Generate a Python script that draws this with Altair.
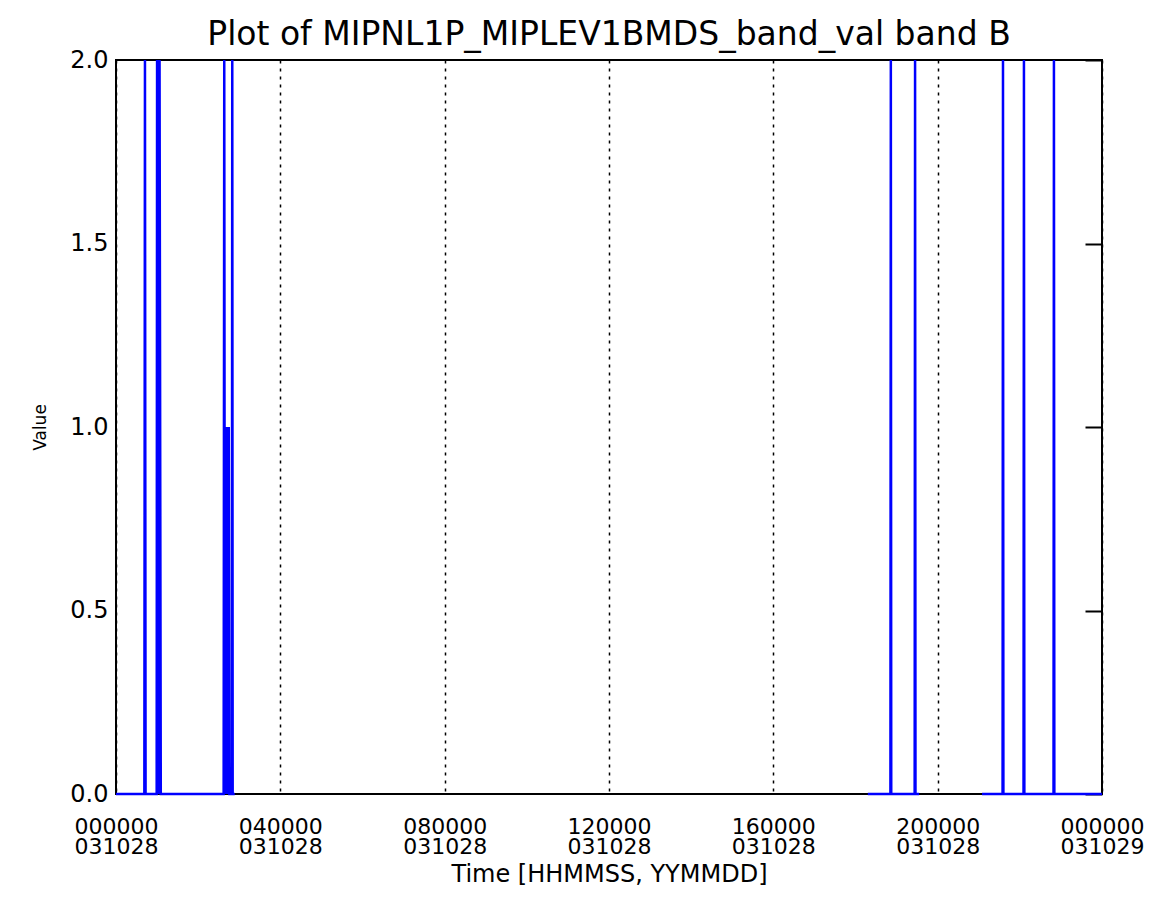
import altair as alt
import pandas as pd

# Time in hours from 000000 031028, value of band flag
seg1_t = [0.00, 0.69, 0.705, 0.72, 0.99, 1.00, 1.03, 1.06, 1.09, 1.10,
          2.62, 2.635, 2.65, 2.67, 2.69, 2.71, 2.73, 2.745, 2.76, 2.82, 2.83, 2.84, 2.89]
seg1_v = [0, 0, 2, 0, 0, 2, 0, 2, 0, 0,
          0, 2, 0, 1, 0, 1, 0, 1, 0, 0, 2, 0, 0]
seg2_t = [18.30, 18.85, 18.86, 18.87, 19.44, 19.45, 19.46, 19.55]
seg2_v = [0, 0, 2, 0, 0, 2, 0, 0]
seg3_t = [21.08, 21.58, 21.59, 21.60, 22.09, 22.10, 22.11, 22.82, 22.83, 22.84, 24.00]
seg3_v = [0, 0, 2, 0, 0, 2, 0, 0, 2, 0, 0]

x_ticks = [0, 4, 8, 12, 16, 20, 24]
y_ticks = [0.0, 0.5, 1.0, 1.5, 2.0]
title_text = "Plot of MIPNL1P_MIPLEV1BMDS_band_val band B"

rows = []
for name, ts, vs in [("a", seg1_t, seg1_v), ("b", seg2_t, seg2_v), ("c", seg3_t, seg3_v)]:
    for i, (t, v) in enumerate(zip(ts, vs)):
        rows.append({"seg": name, "order": i, "t": t, "v": v})
df = pd.DataFrame(rows)

FONT = "DejaVu Sans"

label_expr = ("[datum.value == 24 ? '000000' : (datum.value < 10 ? '0' : '') + datum.value + '0000', "
              "datum.value == 24 ? '031029' : '031028']")

xscale = alt.Scale(domain=[0, 24], nice=False, zero=False)
xaxis = alt.Axis(values=x_ticks, labelExpr=label_expr, title="Time [HHMMSS, YYMMDD]",
                 grid=True, gridDash=[3, 5], gridColor="black", gridWidth=1.5,
                 ticks=False, tickSize=0, domain=False, labelPadding=22,
                 labelFontSize=22, labelLineHeight=20, labelFont=FONT,
                 labelColor="black", labelBaseline="top", labelFlush=False,
                 labelOverlap=False,
                 titleFont=FONT, titleFontSize=24, titleFontWeight="normal",
                 titleColor="black", titlePadding=5)

yscale = alt.Scale(domain=[0, 2], nice=False)

base = alt.Chart(df).mark_line(color="#0000ff", strokeWidth=2.5, clip=False).encode(
    x=alt.X("t:Q", scale=xscale, axis=xaxis),
    y=alt.Y("v:Q", scale=yscale,
            axis=alt.Axis(values=y_ticks, format=".1f", title="Value", ticks=False,
                          domain=False, grid=False, labelPadding=8,
                          labelFontSize=24, labelFont=FONT, labelColor="black",
                          titleFont=FONT, titleFontSize=17, titleFontWeight="normal",
                          titleColor="black", titlePadding=20)),
    detail="seg:N",
    order="order:Q",
)

right = alt.Chart(df).mark_line(opacity=0).encode(
    x=alt.X("t:Q", scale=xscale, axis=xaxis),
    y=alt.Y("v:Q", scale=yscale,
            axis=alt.Axis(orient="right", values=y_ticks, labels=False, title=None,
                          domain=False, grid=False, ticks=True, tickSize=17, offset=-17,
                          tickColor="black", tickWidth=2)),
    detail="seg:N",
)

chart = alt.layer(base, right).resolve_axis(y="independent").properties(
    width=986, height=734,
    title=alt.TitleParams(title_text, font=FONT, fontSize=33, fontWeight="normal",
                          color="black", anchor="middle", offset=-4),
    autosize=alt.AutoSizeParams(type="none"),
    padding={"left": 108, "top": 52, "right": 50, "bottom": 110},
).configure(background="white").configure_view(stroke="black", strokeWidth=2)

chart.save("out.html", embed_options={"renderer": "svg", "actions": False})
